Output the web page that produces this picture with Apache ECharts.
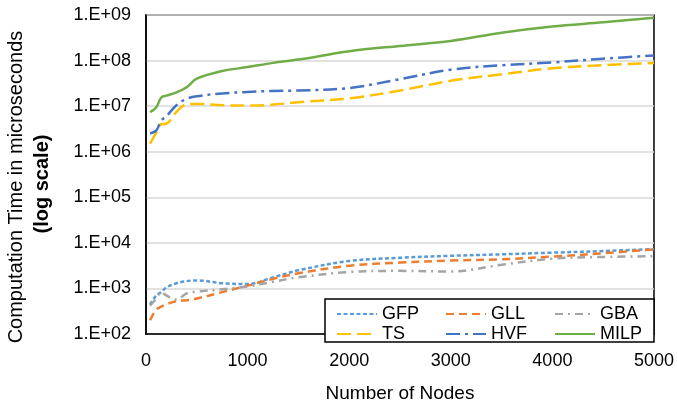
<!DOCTYPE html>
<html>
<head>
<meta charset="utf-8">
<script src="https://cdn.jsdelivr.net/npm/echarts@6/dist/echarts.min.js"></script>
<style>
  html, body { margin: 0; padding: 0; background: #fff; }
  #chart { width: 677px; height: 408px; }
</style>
</head>
<body>
<div id="chart"></div>
<script>
// number of nodes (x)
const nodes = [40, 100, 150, 200, 300, 400, 500, 750, 1000, 1250, 1500, 2000, 2500, 3000, 3500, 4000, 4500, 5000]

// computation time in microseconds
const gfp  = [440, 700, 830, 1050, 1300, 1450, 1500, 1300, 1250, 1750, 2500, 4000, 4700, 5200, 5600, 6100, 6600, 7300]
const gll  = [200, 340, 400, 450, 525, 550, 600, 830, 1150, 1620, 2150, 3150, 3700, 4100, 4350, 5000, 5900, 7200]
const gba  = [420, 600, 830, 700, 570, 780, 850, 960, 1100, 1400, 1750, 2300, 2430, 2350, 3300, 4500, 4900, 5100]
const ts   = [1.5e6, 2.6e6, 4.0e6, 4.1e6, 7.5e6, 1.1e7, 1.12e7, 1.05e7, 1.03e7, 1.08e7, 1.22e7, 1.48e7, 2.2e7, 3.6e7, 5.0e7, 6.8e7, 7.9e7, 8.9e7]
const hvf  = [2.5e6, 2.9e6, 4.8e6, 6.0e6, 1.05e7, 1.45e7, 1.65e7, 1.9e7, 2.05e7, 2.15e7, 2.2e7, 2.5e7, 3.9e7, 6.3e7, 7.9e7, 9.1e7, 1.1e8, 1.29e8]
const milp = [7.4e6, 9.3e6, 1.55e7, 1.7e7, 2.0e7, 2.6e7, 4.0e7, 5.9e7, 7.2e7, 8.9e7, 1.05e8, 1.6e8, 2.1e8, 2.7e8, 4.1e8, 5.6e8, 6.9e8, 8.7e8]

const seriesNames = ['GFP', 'GLL', 'GBA', 'TS', 'HVF', 'MILP']
const seriesData = [gfp, gll, gba, ts, hvf, milp]
const colors = ['#5B9BD5', '#ED7D31', '#A5A5A5', '#FFC000', '#4472C4', '#70AD47']
const dashes = [[4, 2.5], [8, 5], [8, 5, 2, 5], [14, 6], [14, 5, 3, 5], 'solid']

const FONT = '"Liberation Sans", Arial, sans-serif'

const chart = echarts.init(document.getElementById('chart'))

const pair = (xs, ys) => xs.map((x, i) => [x, ys[i]])

// legend: 3 columns x 2 rows
const legendCols = [336, 445, 554]
const legendRows = [305, 325]
const legends = seriesNames.map((name, i) => ({
  data: [name],
  left: legendCols[i % 3],
  top: legendRows[Math.floor(i / 3)],
  padding: 0,
  itemWidth: 40,
  itemHeight: 14,
  itemGap: 0,
  z: 5,
  itemStyle: { opacity: 0 },
  textStyle: { fontSize: 18, fontFamily: FONT, color: '#000' }
}))

chart.setOption({
  animation: false,
  backgroundColor: '#fff',
  grid: {
    left: 146, right: 21, top: 15, bottom: 65,
    show: true, borderColor: '#000', borderWidth: 1.5
  },
  legend: legends,
  xAxis: {
    type: 'value',
    min: 0, max: 5000, interval: 1000,
    name: 'Number of Nodes',
    nameLocation: 'middle',
    nameGap: 50,
    nameTextStyle: { fontSize: 19, fontFamily: FONT, color: '#000' },
    axisLine: { lineStyle: { color: '#000', width: 1.5 } },
    axisTick: { show: false },
    axisLabel: { fontSize: 18, fontFamily: FONT, color: '#000', margin: 18, formatter: v => String(v) },
    splitLine: { show: false }
  },
  yAxis: {
    type: 'log',
    logBase: 10,
    min: 100, max: 1e9,
    axisLine: { show: true, lineStyle: { color: '#000', width: 1.5 } },
    axisTick: { show: false },
    axisLabel: {
      fontSize: 18, fontFamily: FONT, color: '#000', margin: 15,
      formatter: v => {
        const e = Math.round(Math.log10(v))
        return '1.E+' + (e < 10 ? '0' + e : e)
      }
    },
    splitLine: { lineStyle: { color: '#D9D9D9', width: 1.5 } }
  },
  graphic: [
    {
      type: 'text', x: 16, y: 187, rotation: Math.PI / 2,
      style: { text: 'Computation Time in microseconds', fontSize: 20, fontFamily: FONT, fill: '#000', align: 'center', verticalAlign: 'middle' }
    },
    {
      type: 'text', x: 42, y: 184, rotation: Math.PI / 2,
      style: { text: '(log scale)', fontSize: 20, fontWeight: 'bold', fontFamily: FONT, fill: '#000', align: 'center', verticalAlign: 'middle' }
    },
    {
      type: 'rect', z: 4,
      shape: { x: 325, y: 299, width: 329, height: 43 },
      style: { fill: '#fff', stroke: '#000', lineWidth: 1.5 }
    }
  ],
  series: seriesNames.map((name, i) => ({
    name,
    type: 'line',
    data: pair(nodes, seriesData[i]),
    smooth: 0.35,
    showSymbol: false,
    symbol: 'none',
    z: 2,
    lineStyle: { color: colors[i], width: 2.5, type: dashes[i] },
    itemStyle: { color: colors[i] }
  }))
})
</script>
</body>
</html>
